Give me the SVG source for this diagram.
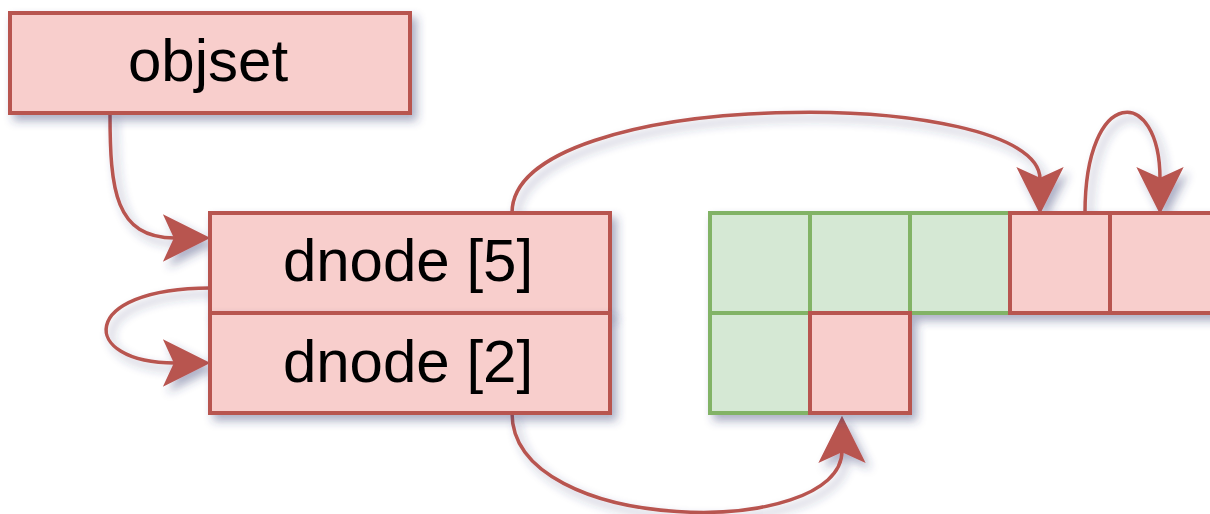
<svg xmlns="http://www.w3.org/2000/svg" width="1210" height="514" viewBox="0 0 1210 514">
<defs>
<filter id="sh" x="-20%" y="-20%" width="140%" height="140%">
<feDropShadow dx="5" dy="6" stdDeviation="5" flood-color="#2d3a6e" flood-opacity="0.4"/>
</filter>
<marker id="arr" markerUnits="userSpaceOnUse" markerWidth="80" markerHeight="80" viewBox="-20 -40 80 80" refX="0" refY="0" orient="auto" overflow="visible">
<path d="M33,0 L-10,-21.5 L0,0 L-10,21.5 Z" fill="#b85450" stroke="#b85450" stroke-width="2" stroke-linejoin="miter"/>
</marker>
</defs>
<style>
.red{fill:#f8cecc;stroke:#b85450;stroke-width:4}
.grn{fill:#d5e8d4;stroke:#82b366;stroke-width:4}
.lbl{font-family:"Liberation Sans",Arial,sans-serif;font-size:60px;fill:#000;text-anchor:middle}
.edge{fill:none;stroke:#b85450;stroke-width:3.5;marker-end:url(#arr)}
</style>
<g id="connectors" filter="url(#sh)">
<path class="edge" d="M110,113 C110,190 115,238 175,238"/>
<path class="edge" d="M210,288 C78,288 78,363 175,363"/>
<path class="edge" d="M512,213 C512,85 1040,85 1040,179"/>
<path class="edge" d="M1085,213 C1085,85 1160,85 1160,179"/>
<path class="edge" d="M512,413 C512,536 842,540 842,451"/>
</g>
<g id="objset" filter="url(#sh)">
<rect class="red" x="10" y="13" width="400" height="100"/>
<text class="lbl" x="208" y="81">objset</text>
</g>
<g id="dnode5" filter="url(#sh)">
<rect class="red" x="210" y="213" width="400" height="100"/>
<text class="lbl" x="408" y="281">dnode [5]</text>
</g>
<g id="dnode2" filter="url(#sh)">
<rect class="red" x="210" y="313" width="400" height="100"/>
<text class="lbl" x="408" y="382">dnode [2]</text>
</g>
<g id="blocks" filter="url(#sh)">
<rect class="grn" x="710" y="213" width="100" height="100"/>
<rect class="grn" x="810" y="213" width="100" height="100"/>
<rect class="grn" x="910" y="213" width="100" height="100"/>
<rect class="grn" x="710" y="313" width="100" height="100"/>
<rect class="red" x="1010" y="213" width="100" height="100"/>
<rect class="red" x="1110" y="213" width="104" height="100"/>
<rect class="red" x="810" y="313" width="100" height="100"/>
</g>
</svg>
